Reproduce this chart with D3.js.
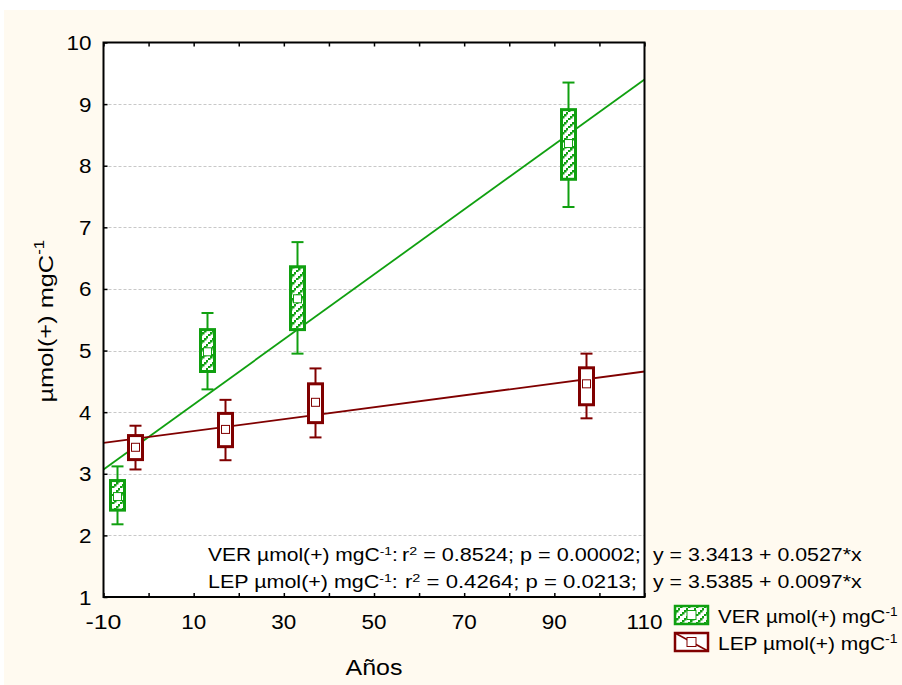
<!DOCTYPE html>
<html><head><meta charset="utf-8">
<script src="https://cdn.jsdelivr.net/npm/d3@7"></script>
<style>
body{margin:0;background:#fff;}
svg{display:block;font-family:"Liberation Sans",Arial,sans-serif;}
</style></head><body>
<svg id="c" width="902" height="685"></svg>
<script>
// ---- data ----
const groups = ["VER µmol(+) mgC-1", "LEP µmol(+) mgC-1"];
const verX = [-7, 13, 33, 93];
const verMean = [2.63, 4.98, 5.84, 8.36];
const verBoxLo = [2.41, 4.66, 5.34, 7.78];
const verBoxHi = [2.89, 5.34, 6.36, 8.91];
const verWhLo = [2.18, 4.37, 4.95, 7.33];
const verWhHi = [3.12, 5.61, 6.76, 9.35];
const lepX = [-3, 17, 37, 97];
const lepMean = [3.43, 3.72, 4.16, 4.46];
const lepBoxLo = [3.23, 3.44, 3.83, 4.12];
const lepBoxHi = [3.62, 3.98, 4.46, 4.72];
const lepWhLo = [3.07, 3.22, 3.59, 3.90];
const lepWhHi = [3.78, 4.20, 4.71, 4.95];
const verFit = [[-10, 3.07], [110, 9.40]];
const lepFit = [[-10, 3.50], [110, 4.66]];
const xTicks = [-10, 10, 30, 50, 70, 90, 110];
const xMinorTicks = [-10, 0, 10, 20, 30, 40, 50, 60, 70, 80, 90, 100, 110];
const yTicks = [1, 2, 3, 4, 5, 6, 7, 8, 9, 10];
const statsVER = ["VER µmol(+) mgC", "r", " = 0.8524; p = 0.00002;", "y = 3.3413 + 0.0527*x"];
const statsLEP = ["LEP µmol(+) mgC", "r", " = 0.4264;  p = 0.0213;", "y = 3.5385 + 0.0097*x"];

const GREEN = "#10a010", RED = "#800000";
const svg = d3.select("#c");
svg.append("rect").attr("x", 4).attr("y", 10).attr("width", 898).attr("height", 675).attr("fill", "#fffaf0");
const L = 103.5, R = 644.5, T = 42.5, B = 597;
const x = d3.scaleLinear().domain([-10, 110]).range([L, R]);
const y = d3.scaleLinear().domain([1, 10]).range([B, T]);
svg.append("rect").attr("x", L).attr("y", T).attr("width", R - L).attr("height", B - T).attr("fill", "#fff");

// helper: text group stretched horizontally to a target width
function stretchText(parent, tx, ty, anchor, target, build, extra) {
  const g = parent.append("g");
  const t = g.append("text").attr("x", 0).attr("y", 0);
  build(t);
  const w = t.node().getBBox().width;
  const s = target ? target / w : 1;
  let x0 = 0;
  if (anchor === "middle") x0 = -target / 2;
  else if (anchor === "end") x0 = -target;
  g.attr("transform", `translate(${tx},${ty}) ${extra || ""} translate(${x0},0) scale(${s},1)`);
  return g;
}

// pattern
const defs = svg.append("defs");
const pat = defs.append("pattern").attr("id", "hatch").attr("patternUnits", "userSpaceOnUse")
  .attr("width", 8).attr("height", 8);
pat.append("rect").attr("width", 8).attr("height", 8).attr("fill", "#fff");
[[6,0],[4,2],[2,4],[0,6]].forEach(p => pat.append("rect").attr("x", p[0]).attr("y", p[1]).attr("width", 2.5).attr("height", 2.5).attr("fill", GREEN));

// gridlines
svg.append("g").selectAll("line").data(yTicks.filter(d => d > 1 && d < 10)).join("line")
  .attr("x1", L).attr("x2", R).attr("y1", d => Math.round(y(d)) + 0.5).attr("y2", d => Math.round(y(d)) + 0.5)
  .attr("stroke", "#c8c8c8").attr("stroke-dasharray", "3,2").attr("stroke-width", 1);

// fit lines
const line = d3.line().x(d => x(d[0])).y(d => y(d[1]));
svg.append("path").attr("d", line(verFit)).attr("stroke", GREEN).attr("stroke-width", 1.8).attr("fill", "none");
svg.append("path").attr("d", line(lepFit)).attr("stroke", RED).attr("stroke-width", 1.8).attr("fill", "none");

function boxes(xs, mean, blo, bhi, wlo, whi, color, fill) {
  const g = svg.append("g");
  xs.forEach((xv, i) => {
    const cx = Math.round(x(xv)) + 0.5;
    const bw = 14, cw = 12, ms = 8;
    g.append("line").attr("x1", cx).attr("x2", cx).attr("y1", y(whi[i])).attr("y2", y(bhi[i])).attr("stroke", color).attr("stroke-width", 2);
    g.append("line").attr("x1", cx).attr("x2", cx).attr("y1", y(blo[i])).attr("y2", y(wlo[i])).attr("stroke", color).attr("stroke-width", 2);
    g.append("line").attr("x1", cx - cw / 2).attr("x2", cx + cw / 2).attr("y1", y(whi[i])).attr("y2", y(whi[i])).attr("stroke", color).attr("stroke-width", 2);
    g.append("line").attr("x1", cx - cw / 2).attr("x2", cx + cw / 2).attr("y1", y(wlo[i])).attr("y2", y(wlo[i])).attr("stroke", color).attr("stroke-width", 2);
    g.append("rect").attr("x", cx - bw / 2).attr("y", y(bhi[i])).attr("width", bw).attr("height", y(blo[i]) - y(bhi[i]))
      .attr("fill", fill).attr("stroke", color).attr("stroke-width", 3);
    g.append("rect").attr("x", cx - ms / 2).attr("y", y(mean[i]) - ms / 2).attr("width", ms).attr("height", ms)
      .attr("fill", "#fff").attr("stroke", color).attr("stroke-width", 1);
  });
}
boxes(verX, verMean, verBoxLo, verBoxHi, verWhLo, verWhHi, GREEN, "url(#hatch)");
boxes(lepX, lepMean, lepBoxLo, lepBoxHi, lepWhLo, lepWhHi, RED, "#fff");

// frame
svg.append("rect").attr("x", L).attr("y", T).attr("width", R - L).attr("height", B - T)
  .attr("fill", "none").attr("stroke", "#000").attr("stroke-width", 2);

// axes ticks
const xAxisB = svg.append("g").attr("transform", `translate(0,${B})`)
  .call(d3.axisBottom(x).tickValues(xMinorTicks).tickSize(-4).tickFormat(""));
const xAxisT = svg.append("g").attr("transform", `translate(0,${T})`)
  .call(d3.axisTop(x).tickValues(xMinorTicks).tickSize(-4).tickFormat(""));
const yAxisL = svg.append("g").attr("transform", `translate(${L},0)`)
  .call(d3.axisLeft(y).tickValues(yTicks).tickSize(-4).tickFormat(""));
[xAxisB, xAxisT, yAxisL].forEach(a => { a.select(".domain").remove(); a.selectAll("line").attr("stroke", "#000").attr("stroke-width", 1.5); });

// tick labels
const fs = 21;
xTicks.forEach(d => {
  const w = String(d).length === 3 ? 36 : 25;
  stretchText(svg, x(d), B + 32, "middle", w, t => t.attr("font-size", fs).text(d));
});
yTicks.forEach(d => {
  const w = String(d).length === 2 ? 25 : 12.5;
  stretchText(svg, L - 12, y(d) + 7.5, "end", w, t => t.attr("font-size", fs).text(d));
});

// axis titles
stretchText(svg, 374, 675, "middle", 57, t => t.attr("font-size", 22).text("Años"));
stretchText(svg, 53, 321, "middle", 163, t => {
  t.attr("font-size", 21);
  t.append("tspan").text("µmol(+) mgC");
  t.append("tspan").attr("dy", -9).attr("font-size", 14).text("-1");
}, "rotate(-90)");

// stats text
function stats(s, yy, w2, x2) {
  const fsz = 17.5;
  stretchText(svg, 208, yy, "start", 190, t => {
    t.attr("font-size", fsz);
    t.append("tspan").text(s[0]);
    t.append("tspan").attr("dy", -6).attr("font-size", 11.5).text("-1");
    t.append("tspan").attr("dy", 6).text(":");
  });
  stretchText(svg, x2, yy, "start", w2, t => {
    t.attr("font-size", fsz);
    t.append("tspan").text(s[1]);
    t.append("tspan").attr("dy", -6).attr("font-size", 11.5).text("2");
    t.append("tspan").attr("dy", 6).text(s[2]);
  });
  stretchText(svg, 653, yy, "start", 209, t => t.attr("font-size", fsz).text(s[3]));
}
stats(statsVER, 561, 239, 402);
stats(statsLEP, 588, 232, 405);

// legend
const lg = svg.append("g");
[[GREEN, "url(#hatch)", 606, groups[0]], [RED, "#fff", 633, groups[1]]].forEach((d, i) => {
  lg.append("rect").attr("x", 675).attr("y", d[2]).attr("width", 33).attr("height", 18).attr("fill", d[1]).attr("stroke", d[0]).attr("stroke-width", 2.5);
  if (i === 1) lg.append("line").attr("x1", 675).attr("y1", d[2]).attr("x2", 708).attr("y2", d[2] + 18).attr("stroke", d[0]).attr("stroke-width", 1.5);
  lg.append("rect").attr("x", 687).attr("y", d[2] + 4.5).attr("width", 9).attr("height", 9).attr("fill", "#fff").attr("stroke", d[0]).attr("stroke-width", 1);
  stretchText(lg, 718, d[2] + 17, "start", 180, t => {
    t.attr("font-size", 18);
    t.append("tspan").text(d[3].replace("-1", ""));
    t.append("tspan").attr("dy", -7).attr("font-size", 12).text("-1");
  });
});
</script></body></html>
